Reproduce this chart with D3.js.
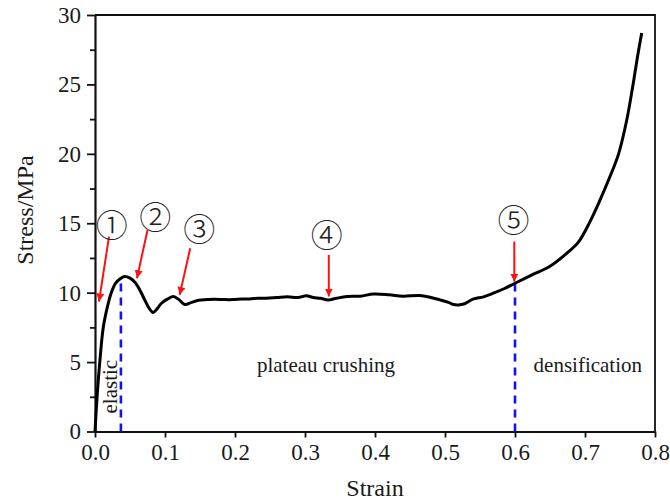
<!DOCTYPE html>
<html>
<head>
<meta charset="utf-8">
<script src="https://cdn.jsdelivr.net/npm/d3@7"></script>
<style>
  html, body { margin: 0; padding: 0; background: #fff; }
  svg { display: block; }
</style>
</head>
<body>
<script>
// Compressive stress-strain curve of the foam sample
const strain = [0, 0.0033, 0.0071, 0.012, 0.019, 0.023, 0.0295, 0.036, 0.042, 0.05, 0.057, 0.064, 0.071, 0.077, 0.083, 0.089, 0.095, 0.104, 0.112, 0.12, 0.128, 0.138, 0.148, 0.16, 0.171, 0.185, 0.197, 0.21, 0.221, 0.233, 0.245, 0.26, 0.275, 0.29, 0.302, 0.312, 0.322, 0.333, 0.345, 0.36, 0.379, 0.398, 0.42, 0.44, 0.464, 0.48, 0.493, 0.505, 0.512, 0.519, 0.528, 0.54, 0.555, 0.569, 0.585, 0.6, 0.625, 0.65, 0.674, 0.69, 0.707, 0.72, 0.736, 0.748, 0.7595, 0.768, 0.775, 0.781];
const stress = [0, 2.76, 5.16, 7.56, 9.24, 9.96, 10.68, 11.0, 11.16, 11.05, 10.75, 10.2, 9.48, 8.9, 8.57, 8.85, 9.24, 9.55, 9.72, 9.5, 9.15, 9.3, 9.45, 9.5, 9.53, 9.5, 9.5, 9.55, 9.55, 9.6, 9.6, 9.65, 9.7, 9.65, 9.77, 9.65, 9.6, 9.48, 9.6, 9.72, 9.75, 9.9, 9.85, 9.75, 9.8, 9.65, 9.48, 9.3, 9.15, 9.12, 9.2, 9.53, 9.7, 9.96, 10.3, 10.68, 11.3, 11.9, 12.84, 13.6, 15.1, 16.5, 18.4, 20.0, 22.4, 24.8, 27.0, 28.7];

// Axis ticks
const xTicks = [0, 0.1, 0.2, 0.3, 0.4, 0.5, 0.6, 0.7, 0.8];
const yTicks = [0, 5, 10, 15, 20, 25, 30];
const yMinorTicks = [2.5, 7.5, 12.5, 17.5, 22.5, 27.5];

// Stage boundaries (strain, stress at the top of the dashed line)
const boundaryStrain = [0.037, 0.6];
const boundaryStress = [10.8, 10.68];

// Numbered markers: label, label centre, arrow start, arrow tip (data units)
const markerLabels = ["①", "②", "③", "④", "⑤"];
const markerLabelX = [0.024, 0.086, 0.149, 0.331, 0.598];
const markerLabelY = [15.0, 15.6, 14.7, 14.28, 15.36];
const arrowFromX = [0.02, 0.075, 0.136, 0.334, 0.599];
const arrowFromY = [14.03, 14.52, 13.2, 12.72, 13.68];
const arrowToX = [0.0057, 0.06, 0.121, 0.334, 0.599];
const arrowToY = [9.36, 11.04, 9.84, 9.72, 10.8];

// Stage names
const stageNames = ["plateau crushing", "densification"];
const stageX = [0.33, 0.704];
const stageY = [4.32, 4.32];

const W = 670, H = 502;
const margin = { left: 95, right: 15, top: 15, bottom: 70.5 };
const serif = "Liberation Serif, Times New Roman, serif";
const ink = "#1a1a1a";

const svg = d3.select("body").append("svg").attr("width", W).attr("height", H);

const x = d3.scaleLinear().domain([0, 0.8]).range([margin.left, W - margin.right]);
const y = d3.scaleLinear().domain([0, 30]).range([H - margin.bottom, margin.top]);

// Frame: top and right edges
svg.append("path")
  .attr("d", `M${x(0)},${y(30)}H${x(0.8)}V${y(0)}`)
  .attr("fill", "none").attr("stroke", "#111").attr("stroke-width", 1.8);

// Bottom axis
svg.append("g")
  .attr("transform", `translate(0,${y(0)})`)
  .call(d3.axisBottom(x).tickValues(xTicks).tickFormat(d3.format(".1f")).tickSize(6).tickSizeOuter(0).tickPadding(6));

// Left axis, major and minor ticks
svg.append("g")
  .attr("transform", `translate(${x(0)},0)`)
  .call(d3.axisLeft(y).tickValues(yTicks).tickFormat(d3.format("d")).tickSize(8).tickSizeOuter(0).tickPadding(6));
svg.append("g")
  .attr("transform", `translate(${x(0)},0)`)
  .call(d3.axisLeft(y).tickValues(yMinorTicks).tickFormat("").tickSize(5).tickSizeOuter(0))
  .select(".domain").remove();

svg.selectAll("g").attr("font-family", serif);
svg.selectAll(".domain").attr("stroke", "#111").attr("stroke-width", 2.2);
svg.selectAll(".tick line").attr("stroke", "#111").attr("stroke-width", 1.8);
svg.selectAll(".tick text")
  .attr("font-family", serif)
  .attr("font-size", 23).attr("fill", ink);

// Axis titles
svg.append("text")
  .attr("x", 375).attr("y", 496)
  .attr("text-anchor", "middle").attr("font-size", 24)
  .attr("font-family", serif).attr("fill", ink)
  .text("Strain");
svg.append("text")
  .attr("transform", `translate(33,${210}) rotate(-90)`)
  .attr("text-anchor", "middle").attr("font-size", 24)
  .attr("font-family", serif).attr("fill", ink)
  .text("Stress/MPa");

// Stage boundaries
svg.selectAll(".boundary")
  .data(boundaryStrain)
  .join("line")
  .attr("x1", d => x(d)).attr("x2", d => x(d))
  .attr("y1", y(0))
  .attr("y2", (d, i) => y(boundaryStress[i]))
  .attr("stroke", "#1010ff").attr("stroke-width", 2.6)
  .attr("stroke-dasharray", "8,6");

// Stress-strain curve
const pts = strain.map((s, i) => [s, stress[i]]);
svg.append("path")
  .datum(pts)
  .attr("fill", "none").attr("stroke", "#000").attr("stroke-width", 3)
  .attr("stroke-linejoin", "round")
  .attr("d", d3.line().x(d => x(d[0])).y(d => y(d[1])).curve(d3.curveCatmullRom.alpha(0.5)));

// Red arrows
const defs = svg.append("defs");
defs.append("marker")
  .attr("id", "arrowhead")
  .attr("viewBox", "0 0 10 10").attr("refX", 10).attr("refY", 5)
  .attr("markerWidth", 4).attr("markerHeight", 4)
  .attr("markerUnits", "strokeWidth")
  .attr("orient", "auto")
  .append("path").attr("d", "M0,0L10,5L0,10Z").attr("fill", "#ff1010");

svg.selectAll(".arrow")
  .data(markerLabels)
  .join("line")
  .attr("x1", (d, i) => x(arrowFromX[i])).attr("y1", (d, i) => y(arrowFromY[i]))
  .attr("x2", (d, i) => x(arrowToX[i])).attr("y2", (d, i) => y(arrowToY[i]))
  .attr("stroke", "#ff1010").attr("stroke-width", 2)
  .attr("marker-end", "url(#arrowhead)");

// Circled marker numbers
svg.selectAll(".marker-label")
  .data(markerLabels)
  .join("text")
  .attr("x", (d, i) => x(markerLabelX[i]))
  .attr("y", (d, i) => y(markerLabelY[i]))
  .attr("text-anchor", "middle").attr("dominant-baseline", "central")
  .attr("font-family", "Noto Sans CJK SC, sans-serif")
  .attr("font-weight", 300)
  .attr("font-size", 32)
  .attr("fill", "#222")
  .text(d => d);

// Stage names
svg.selectAll(".stage")
  .data(stageNames)
  .join("text")
  .attr("x", (d, i) => x(stageX[i])).attr("y", (d, i) => y(stageY[i]))
  .attr("text-anchor", "middle").attr("font-size", 21)
  .attr("font-family", serif).attr("fill", ink)
  .text(d => d);
svg.append("text")
  .attr("transform", `translate(${x(0.0214) + 7},${y(3.23)}) rotate(-90)`)
  .attr("text-anchor", "middle").attr("font-size", 21)
  .attr("font-family", serif).attr("fill", ink)
  .text("elastic");
</script>
</body>
</html>
